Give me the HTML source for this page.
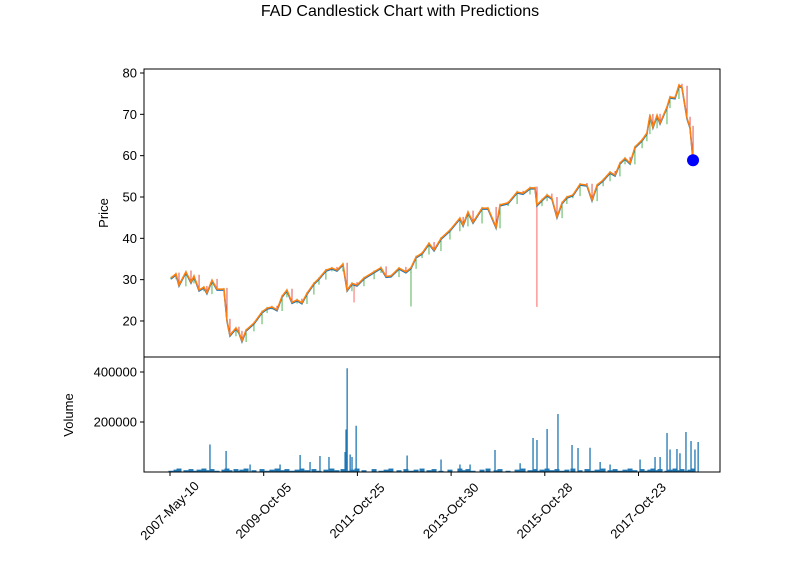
<!DOCTYPE html>
<html><head><meta charset="utf-8"><style>
body{margin:0;background:#fff}
svg{font-family:"Liberation Sans","DejaVu Sans",sans-serif}
</style></head><body>
<svg id="c" width="800" height="575" viewBox="0 0 800 575">
<text x="400" y="16" text-anchor="middle" font-size="16">FAD Candlestick Chart with Predictions</text>
<g id="price"></g>
<g id="vol"></g>
<rect x="144" y="69" width="576" height="288" fill="none" stroke="#000" stroke-width="1"/>
<rect x="144" y="357" width="576" height="115" fill="none" stroke="#000" stroke-width="1"/>
<text transform="translate(108,213) rotate(-90)" text-anchor="middle" font-size="13">Price</text>
<text transform="translate(73,415) rotate(-90)" text-anchor="middle" font-size="13">Volume</text>
</svg>
<script>
const px = [171,176,179,186,191,194,199,204,207,212,217,224,227,230,236,239,242,246,254,262,267,272,277,282,287,292,297,302,307,314,319,326,332,337,343,347,352,357,364,374,381,386,391,399,406,411,416,422,429,434,441,450,460,463,468,473,482,488,496,500,508,517,523,530,535,537,542,547,552,557,562,567,573,580,587,592,597,603,610,615,620,625,630,635,642,647,650,653,657,660,667,670,675,679,682,687,690,693];
const dayIdx = px.map(x => Math.round((x-170)*500/93.7));
const closes = [30.4,31.4,28.7,31.9,29.4,30.9,27.5,28.2,26.8,29.9,27.7,27.7,20.2,16.6,18.3,17.3,15.2,17.8,19.5,22.2,23.1,23.4,22.7,26.0,27.5,24.5,25.1,24.4,26.7,29.1,30.3,32.3,32.8,32.3,33.8,27.5,29.1,28.7,30.4,31.9,32.9,30.8,30.9,32.8,31.9,32.9,35.5,36.4,38.8,37.2,40.0,42.0,44.9,43.2,46.4,43.9,47.3,47.3,42.7,48.1,48.6,51.2,50.9,52.2,52.2,48.1,49.3,50.5,49.7,45.2,48.6,50.0,50.5,53.1,52.9,49.3,52.9,54.1,56.0,55.3,58.2,59.4,58.2,62.1,63.8,65.5,69.8,66.9,69.8,67.9,71.8,74.2,74.0,77.1,76.6,69.1,66.9,58.9];
const spikeIdx = [Math.round((411-170)*5.336), Math.round((537-170)*5.336), Math.round((354-170)*5.336)];
const spikeLow = [23.5, 23.4, 24.5];
const predIdx = [Math.round((693-170)*5.336)];
const predVal = [58.9];
const volIdxPx = [347,356,346,210,226,558,547,537,533,572,578,590,667,670,677,686,691,698,495,300,320,329,407,345,350,352,441,600,640,655,680,695,250,280,310,460,470,520,610,660];
const volIdx = volIdxPx.map(x => Math.round((x-170)*500/93.7));
const volVals = [415000,185000,170000,110000,84000,232000,172000,128000,136000,108000,96000,97000,156000,90000,92000,160000,124000,120000,88000,68000,64000,60000,66000,80000,70000,60000,50000,40000,50000,60000,75000,90000,30000,30000,40000,30000,30000,35000,30000,60000];
const yPriceTicks = [20,30,40,50,60,70,80];
const yVolTicks = [200000,400000];
const xTickIdx = [0,500,1000,1500,2000,2500];
const xTickLabels = ["2007-May-10","2009-Oct-05","2011-Oct-25","2013-Oct-30","2015-Oct-28","2017-Oct-23"];

const NS="http://www.w3.org/2000/svg";
const X = i => 170 + i*93.7/500;
const YP = p => 73 + (80-p)*4.133;
const YV = v => 472 - v/4000;
function mk(tag, attrs, parent){const e=document.createElementNS(NS,tag);for(const k in attrs)e.setAttribute(k,attrs[k]);parent.appendChild(e);return e;}
const gp=document.getElementById('price'), gv=document.getElementById('vol'), svg=document.getElementById('c');

for(let i=0;i<closes.length;i++){
  const prev = i>0?closes[i-1]:closes[i];
  const up = closes[i]>=prev;
  const w = mk('line',{x1:X(dayIdx[i]),x2:X(dayIdx[i]),y1:YP(Math.max(closes[i],prev)+0.3),y2:YP(Math.min(closes[i],prev)-0.3),stroke:up?'#2ca02c':'#d62728','stroke-width':0.8},gp);
  
  
}
for(let i=0;i<spikeIdx.length;i++){
  let j=0;while(j<dayIdx.length-1&&dayIdx[j+1]<spikeIdx[i])j++;
  const s=mk('line',{x1:X(spikeIdx[i]),x2:X(spikeIdx[i]),y1:YP(closes[j]),y2:YP(spikeLow[i]),stroke:i==0?'#2ca02c':'#ff4040','stroke-width':0.8},gp);
  
  
}
const pts = dayIdx.map((d,i)=>X(d)+','+YP(closes[i])).join(' ');
const l1=mk('polyline',{points:dayIdx.map((d,i)=>X(d)+','+(YP(closes[i])+1)).join(' '),fill:'none',stroke:'#1f77b4','stroke-width':1.5},gp);


const l2=mk('polyline',{points:pts,fill:'none',stroke:'#ff7f0e','stroke-width':1.5},gp);


for(let i=0;i<predIdx.length;i++){
  const c=mk('circle',{cx:X(predIdx[i]),cy:YP(predVal[i]),r:6,fill:'#0000ff'},gp);
  
  
}
for(let i=0;i<dayIdx.length;i++){
  const v=5000+((i*7)%5)*2200;
  const b=mk('rect',{x:X(dayIdx[i])-2.5,y:YV(v),width:5,height:472-YV(v),fill:'#1f77b4'},gv);
  
  
}
for(let i=0;i<volIdx.length;i++){
  const b=mk('rect',{x:X(volIdx[i])-0.6,y:YV(volVals[i]),width:1.3,height:472-YV(volVals[i]),fill:'#1f77b4'},gv);
  
  
}
yPriceTicks.forEach(t=>{
  const y=YP(t);
  const l=mk('line',{x1:140,x2:144,y1:y,y2:y,stroke:'#000'},svg);
  
  
  const tx=mk('text',{x:137,y:y+4.5,'text-anchor':'end','font-size':13},svg);tx.textContent=t;
  
  
});
yVolTicks.forEach(t=>{
  const y=YV(t);
  const l=mk('line',{x1:140,x2:144,y1:y,y2:y,stroke:'#000'},svg);
  
  
  const tx=mk('text',{x:137,y:y+4.5,'text-anchor':'end','font-size':13},svg);tx.textContent=t;
  
  
});
xTickIdx.forEach((t,i)=>{
  const x=X(t);
  const l=mk('line',{x1:x,x2:x,y1:472,y2:476,stroke:'#000'},svg);
  
  
  const tx=mk('text',{transform:`translate(${x},${511}) rotate(-45)`,'text-anchor':'middle','font-size':13,dy:4},svg);
  tx.textContent=xTickLabels[i];
  
  
});
</script>
</body></html>
